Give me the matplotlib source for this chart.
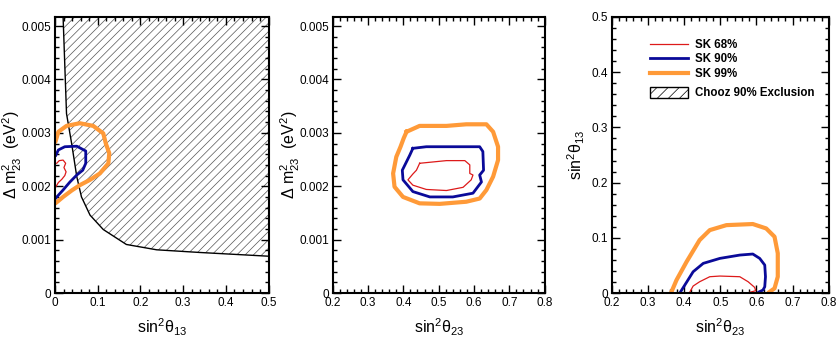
import matplotlib
matplotlib.use("Agg")
import matplotlib.pyplot as plt
from matplotlib.ticker import MultipleLocator, FuncFormatter
from matplotlib.lines import Line2D
from matplotlib.patches import Patch

plt.rcParams['font.family'] = ['Liberation Sans', 'DejaVu Sans']
plt.rcParams['mathtext.fontset'] = 'custom'
plt.rcParams['mathtext.rm'] = 'Liberation Sans'
plt.rcParams['mathtext.it'] = 'Liberation Sans:italic'
plt.rcParams['mathtext.bf'] = 'Liberation Sans:bold'
plt.rcParams['hatch.linewidth'] = 0.5

RED = '#dd1a1a'
BLUE = '#0a0a99'
ORANGE = '#ff9a38'

# panel 1: sin^2 th13 vs dm2
p1_68_x = [0.004, 0.010, 0.019, 0.025, 0.021, 0.026, 0.023, 0.016, 0.008, 0.002]
p1_68_y = [0.00243, 0.00248, 0.00249, 0.00243, 0.00235, 0.00227, 0.00220, 0.00213, 0.00207, 0.00199]
p1_90_x = [0.002, 0.008, 0.023, 0.051, 0.072, 0.072, 0.065, 0.051, 0.035, 0.019, 0.002]
p1_90_y = [0.00258, 0.00268, 0.00274, 0.00275, 0.00266, 0.00243, 0.00230, 0.00221, 0.00208, 0.00193, 0.00178]
p1_99_x = [0.001, 0.008, 0.027, 0.058, 0.0895, 0.113, 0.119, 0.127, 0.125, 0.105,
           0.082, 0.058, 0.039, 0.019, 0.001]
p1_99_y = [0.00283, 0.00302, 0.00313, 0.00318, 0.00313, 0.00299, 0.00280, 0.00262, 0.00243, 0.00224,
           0.00212, 0.00202, 0.00192, 0.00180, 0.00168]
chooz_x = [0.019, 0.027, 0.039, 0.051, 0.062, 0.082, 0.113, 0.167, 0.238, 0.339, 0.5]
chooz_y = [0.00517, 0.00336, 0.00280, 0.00218, 0.00180, 0.00146, 0.00119, 0.00091, 0.00081, 0.00076, 0.00069]

# panel 2: sin^2 th23 vs dm2
p2_68_x = [0.446, 0.522, 0.574, 0.588, 0.588, 0.597, 0.592, 0.569, 0.522, 0.465, 0.427, 0.413,
           0.427, 0.437, 0.444, 0.446]
p2_68_y = [0.00243, 0.00248, 0.00248, 0.00240, 0.00224, 0.00221, 0.00212, 0.00198, 0.00192, 0.00194,
           0.00202, 0.00212, 0.00223, 0.00230, 0.00240, 0.00243]
p2_90_x = [0.427, 0.465, 0.540, 0.616, 0.625, 0.627, 0.616, 0.621, 0.597, 0.540, 0.475, 0.427,
           0.399, 0.397, 0.409, 0.418, 0.427]
p2_90_y = [0.00271, 0.00274, 0.00274, 0.00274, 0.00265, 0.00230, 0.00221, 0.00208, 0.00187, 0.00180,
           0.00180, 0.00190, 0.00212, 0.00230, 0.00246, 0.00258, 0.00271]
p2_99_x = [0.409, 0.446, 0.522, 0.578, 0.635, 0.654, 0.668, 0.668, 0.654, 0.635, 0.616, 0.578,
           0.503, 0.446, 0.399, 0.375, 0.371, 0.380, 0.392, 0.401, 0.409]
p2_99_y = [0.00302, 0.00313, 0.00313, 0.00316, 0.00316, 0.00302, 0.00274, 0.00249, 0.00218, 0.00193,
           0.00177, 0.00171, 0.00167, 0.00168, 0.00180, 0.00199, 0.00224, 0.00255, 0.00274, 0.00290, 0.00302]

# panel 3: sin^2 th23 vs sin^2 th13
p3_68_x = [0.416, 0.425, 0.443, 0.471, 0.499, 0.554, 0.577, 0.595, 0.598, 0.581]
p3_68_y = [0.002, 0.0127, 0.0205, 0.0296, 0.0308, 0.0296, 0.0205, 0.0103, 0.0042, 0.0013]
p3_90_x = [0.390, 0.402, 0.425, 0.453, 0.499, 0.554, 0.590, 0.609, 0.623, 0.625, 0.623, 0.618, 0.607]
p3_90_y = [0.002, 0.0145, 0.0386, 0.0538, 0.0628, 0.0688, 0.0707, 0.0628, 0.0507, 0.0296, 0.0114, 0.0054, 0.002]
p3_99_x = [0.365, 0.379, 0.407, 0.443, 0.471, 0.517, 0.590, 0.627, 0.650, 0.659, 0.659, 0.650, 0.636]
p3_99_y = [0.002, 0.0235, 0.0568, 0.096, 0.114, 0.123, 0.125, 0.117, 0.102, 0.072, 0.0296, 0.0085, 0.002]

DM_TOP = 0.00517


def fmt(v, pos):
    return '0' if abs(v) < 1e-12 else '%g' % round(v, 6)


def style(ax, xmin, xmax, ymin, ymax, ymaj, ymin_step):
    ax.set_xlim(xmin, xmax)
    ax.set_ylim(ymin, ymax)
    ax.xaxis.set_major_locator(MultipleLocator(0.1))
    ax.xaxis.set_minor_locator(MultipleLocator(0.02))
    ax.yaxis.set_major_locator(MultipleLocator(ymaj))
    ax.yaxis.set_minor_locator(MultipleLocator(ymin_step))
    ax.xaxis.set_major_formatter(FuncFormatter(fmt))
    ax.yaxis.set_major_formatter(FuncFormatter(fmt))
    ax.tick_params(which='both', direction='in', top=True, right=True, labelsize=8.5,
                   width=1.0, pad=2.5)
    ax.tick_params(which='major', length=6)
    ax.tick_params(which='minor', length=3)
    for s in ax.spines.values():
        s.set_linewidth(1.5)


fig = plt.figure(figsize=(8.38, 3.46), dpi=100)
ax1 = fig.add_axes([0.0656, 0.153, 0.255, 0.798])
ax2 = fig.add_axes([0.397, 0.153, 0.253, 0.798])
ax3 = fig.add_axes([0.730, 0.153, 0.259, 0.798])

# panel 1
ax1.fill(chooz_x + [0.5], chooz_y + [DM_TOP], facecolor='none', edgecolor='#555555',
         hatch='////', linewidth=0)
ax1.plot(chooz_x, chooz_y, color='black', lw=1.0)
ax1.plot(p1_99_x, p1_99_y, color=ORANGE, lw=3.0, solid_capstyle='round')
ax1.plot(p1_90_x, p1_90_y, color=BLUE, lw=2.0)
ax1.plot(p1_68_x, p1_68_y, color=RED, lw=0.9)
style(ax1, 0, 0.5, 0, DM_TOP, 0.001, 0.0002)

# panel 2
ax2.plot(p2_99_x, p2_99_y, color=ORANGE, lw=3.0)
ax2.plot(p2_90_x, p2_90_y, color=BLUE, lw=2.0)
ax2.plot(p2_68_x, p2_68_y, color=RED, lw=0.9)
style(ax2, 0.2, 0.8, 0, DM_TOP, 0.001, 0.0002)

# panel 3
ax3.plot(p3_99_x, p3_99_y, color=ORANGE, lw=3.0)
ax3.plot(p3_90_x, p3_90_y, color=BLUE, lw=2.0)
ax3.plot(p3_68_x, p3_68_y, color=RED, lw=0.9)
style(ax3, 0.2, 0.8, 0, 0.5, 0.1, 0.02)

dm_label = r'$\Delta\ \mathrm{m^{2}_{23}\ \ (eV^{2})}$'
ax1.set_ylabel(dm_label, fontsize=11.5)
ax2.set_ylabel(dm_label, fontsize=11.5)
ax3.set_ylabel(r'$\mathrm{sin^{2}\theta_{13}}$', fontsize=11.5)
ax1.set_xlabel(r'$\mathrm{sin^{2}\theta_{13}}$', fontsize=11.5)
ax2.set_xlabel(r'$\mathrm{sin^{2}\theta_{23}}$', fontsize=11.5)
ax3.set_xlabel(r'$\mathrm{sin^{2}\theta_{23}}$', fontsize=11.5)
for ax in (ax1, ax2):
    ax.yaxis.set_label_coords(-0.145, 0.5)
ax3.yaxis.set_label_coords(-0.115, 0.5)
for ax in (ax1, ax2, ax3):
    ax.xaxis.set_label_coords(0.5, -0.085)

line_handles = [
    Line2D([], [], color=RED, lw=0.9),
    Line2D([], [], color=BLUE, lw=2.0),
    Line2D([], [], color=ORANGE, lw=3.0),
]
leg_props = {'weight': 'bold', 'size': 8.3}
leg1 = ax3.legend(line_handles, ['SK 68%', 'SK 90%', 'SK 99%'], loc='upper left',
                  bbox_to_anchor=(0.176, 0.92), frameon=False, prop=leg_props,
                  handlelength=3.3, handletextpad=0.6, labelspacing=0.2,
                  borderpad=0, borderaxespad=0)
ax3.add_artist(leg1)
ax3.legend([Patch(facecolor='white', edgecolor='black', hatch='///', linewidth=1.0)],
           ['Chooz 90% Exclusion'], loc='center left', bbox_to_anchor=(0.176, 0.7236),
           frameon=False, prop=leg_props, handlelength=3.3, handleheight=1.1,
           handletextpad=0.6, borderpad=0, borderaxespad=0)

fig.savefig('out.png', dpi=100)
